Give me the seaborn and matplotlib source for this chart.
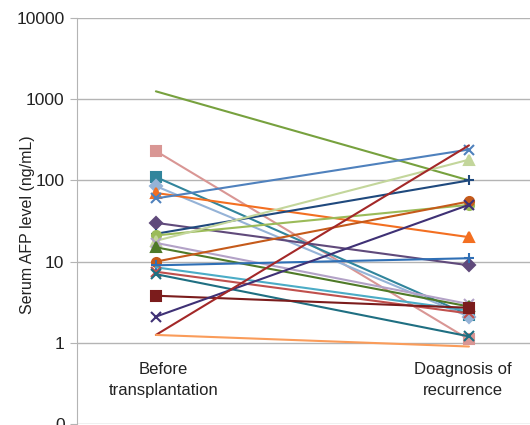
import matplotlib
matplotlib.use("Agg")
import matplotlib.pyplot as plt
import seaborn as sns
import pandas as pd

# AFP values per patient (ng/mL): before transplantation, at diagnosis of recurrence
before = [1250, 230, 110, 85, 70, 60, 30, 22, 21, 18, 17, 15, 10, 9, 8.5, 7.5, 7, 3.8, 2.1, 1.25, 1.25]
after = [100, 1.1, 2.2, 2.1, 20, 240, 9, 100, 50, 180, 3, 2.8, 55, 11, 2.5, 2.3, 1.2, 2.7, 50, 270, 0.9]
colors = ["#77a13e", "#d99694", "#31859c", "#95b3d7", "#f36f21", "#4f81bd", "#604a7b", "#1f497d",
          "#9bbb59", "#c3d69b", "#b3a2c7", "#4f7a28", "#c55a1a", "#2f6fb5", "#4bacc6", "#c0504d",
          "#1f6f82", "#7b1c1c", "#3f3175", "#a32828", "#fa9c5a"]
markers = ["", "s", "s", "D", "^", "x", "D", "+", "o", "^", "x", "^", "o", "+", "", "x",
           "x", "s", "x", "", ""]
stages = ["Before\ntransplantation", "Doagnosis of\nrecurrence"]

sns.set_style("white")
plt.rcParams["font.family"] = ["Liberation Sans", "DejaVu Sans"]

fig = plt.figure(figsize=(5.3, 4.25), dpi=100)
ax = fig.add_axes([77 / 530, 1 / 425, 453 / 530, 406 / 425])

for i in range(len(before)):
    df = pd.DataFrame({"x": [0, 1], "y": [before[i], after[i]]})
    sns.lineplot(data=df, x="x", y="y", color=colors[i], marker=markers[i] or None,
                 markersize=6.5, markeredgewidth=1.5, markeredgecolor=colors[i],
                 linewidth=1.5, ax=ax)

ax.set_yscale("log")
ax.set_ylim(0.1, 10000)
ax.set_xlim(-0.252, 1.195)
ax.set_yticks([0.1, 1, 10, 100, 1000, 10000])
ax.set_yticklabels(["0", "1", "10", "100", "1000", "10000"], fontsize=12.5, color="#222222")
ax.minorticks_off()
ax.yaxis.grid(True, color="#b4b4b4", linewidth=1)
ax.set_axisbelow(True)
ax.tick_params(axis="y", length=5, color="#b4b4b4", left=True, pad=4)
ax.set_xticks([])
ax.set_xlabel("")
ax.set_ylabel("Serum AFP level (ng/mL)", fontsize=11.5, color="#222222")
ax.yaxis.set_label_coords(-42 / 453, 0.49)
for side in ["top", "right", "bottom"]:
    ax.spines[side].set_visible(False)
ax.spines["left"].set_color("#b4b4b4")

for xi, lab in zip([0.025, 0.98], stages):
    ax.text(xi, 0.35, lab, ha="center", va="center", fontsize=12, color="#222222",
            linespacing=1.5)

fig.savefig("out.png", dpi=100)
